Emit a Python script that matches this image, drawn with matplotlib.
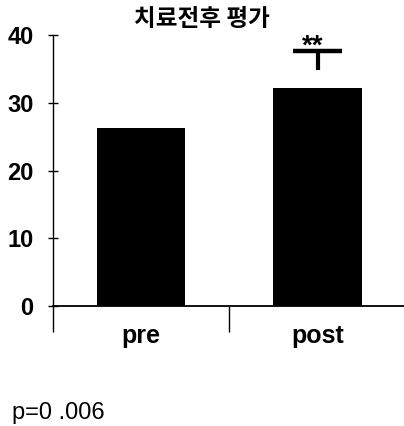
import matplotlib
matplotlib.use("Agg")
import matplotlib.pyplot as plt

categories = ["pre", "post"]
values = [26.3, 32.2]
err_base = [None, 34.8]
err_top = [None, 37.7]
title = "치료전후 평가"
yticks = [0, 10, 20, 30, 40]
note = "p=0 .006"
sig = "**"

plt.rcParams['font.family'] = ['Liberation Sans', 'DejaVu Sans']

fig = plt.figure(figsize=(4.04, 4.26), dpi=100)
ax = fig.add_axes([53/404, 120/426, 351/404, 271/426])

x = list(range(len(categories)))
ax.bar(x, values, width=0.5, color='black')
cap_half = 0.14
for i in x:
    if err_base[i] is not None:
        ax.vlines(i, err_base[i], err_top[i], color='black', linewidth=3)
        ax.hlines(err_top[i], i - cap_half, i + cap_half, color='black', linewidth=3.2)
        ax.text(i - 0.03, err_top[i] - 0.45, sig, ha='center', va='baseline',
                fontsize=20, fontweight='bold', clip_on=False)

ax.set_xlim(-0.5, 1.49)
ax.set_ylim(0, 40)
ax.spines['top'].set_visible(False)
ax.spines['right'].set_visible(False)
ax.spines['left'].set_linewidth(1.0)
ax.spines['bottom'].set_linewidth(1.3)

ax.set_yticks(yticks)
ax.set_yticklabels([str(t) for t in yticks], fontsize=17, fontweight='bold')
ax.tick_params(axis='y', direction='inout', length=7.2, width=1, pad=10.5)

ax.set_xticks(x)
ax.set_xticklabels(categories, fontsize=18, fontweight='bold')
ax.tick_params(axis='x', which='major', length=0, pad=13)
ax.set_xticks([-0.5, 0.5], minor=True)
ax.tick_params(axis='x', which='minor', direction='out', length=18.7, width=1)

fig.text(202/404, 1 - 18.5/426, title, ha='center', va='center', fontsize=17,
         fontweight='bold', family=['Noto Sans CJK KR', 'DejaVu Sans'])
fig.text(12/404, 1 - 413/426, note, ha='left', va='center', fontsize=17)

fig.savefig("out.png", dpi=100)
